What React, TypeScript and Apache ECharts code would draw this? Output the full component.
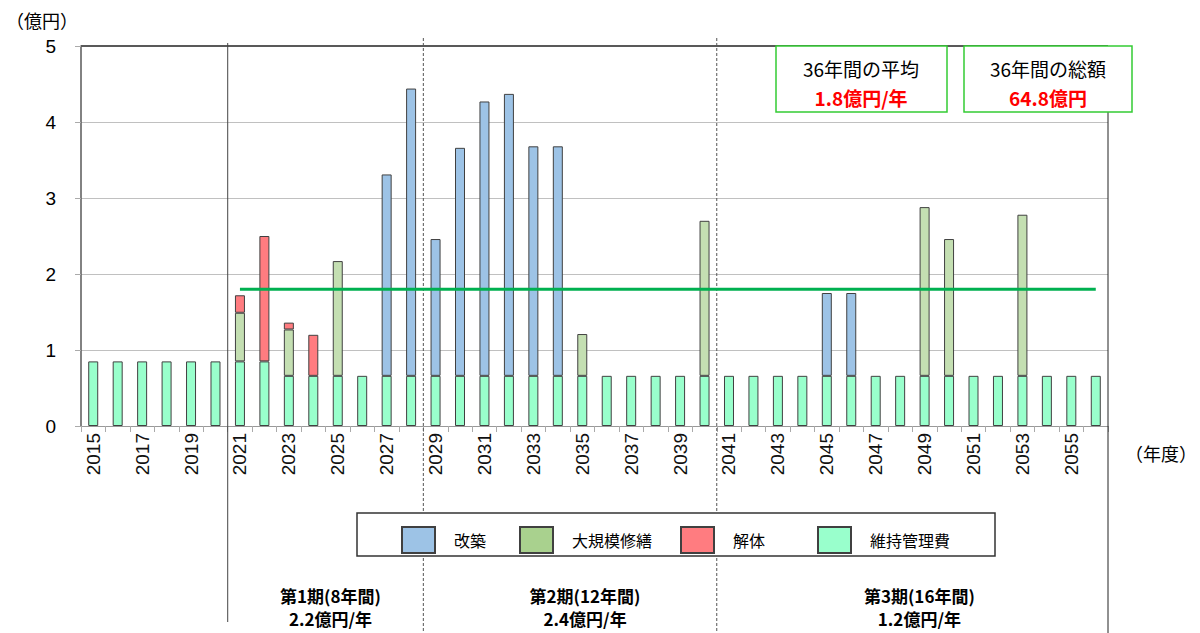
import React, { useEffect, useRef } from "react";
import * as echarts from "echarts";

const years = [
  "2015", "2016", "2017", "2018", "2019", "2020", "2021", "2022", "2023", "2024",
  "2025", "2026", "2027", "2028", "2029", "2030", "2031", "2032", "2033", "2034",
  "2035", "2036", "2037", "2038", "2039", "2040", "2041", "2042", "2043", "2044",
  "2045", "2046", "2047", "2048", "2049", "2050", "2051", "2052", "2053", "2054",
  "2055", "2056",
];

// 維持管理費
const maintenance = [
  0.85, 0.85, 0.85, 0.85, 0.85, 0.85, 0.85, 0.85, 0.66, 0.66,
  0.66, 0.66, 0.66, 0.66, 0.66, 0.66, 0.66, 0.66, 0.66, 0.66,
  0.66, 0.66, 0.66, 0.66, 0.66, 0.66, 0.66, 0.66, 0.66, 0.66,
  0.66, 0.66, 0.66, 0.66, 0.66, 0.66, 0.66, 0.66, 0.66, 0.66,
  0.66, 0.66,
];

// 改築
const rebuild = [
  null, null, null, null, null, null, null, null, null, null,
  null, null, 2.65, 3.78, 1.8, 3.0, 3.61, 3.71, 3.02, 3.02,
  null, null, null, null, null, null, null, null, null, null,
  1.09, 1.09, null, null, null, null, null, null, null, null,
  null, null,
];

// 大規模修繕
const majorRepair = [
  null, null, null, null, null, null, 0.64, null, 0.61, null,
  1.51, null, null, null, null, null, null, null, null, null,
  0.55, null, null, null, null, 2.04, null, null, null, null,
  null, null, null, null, 2.22, 1.8, null, null, 2.12, null,
  null, null,
];

// 解体
const demolition = [
  null, null, null, null, null, null, 0.23, 1.65, 0.09, 0.54,
  null, null, null, null, null, null, null, null, null, null,
  null, null, null, null, null, null, null, null, null, null,
  null, null, null, null, null, null, null, null, null, null,
  null, null,
];

// 36年間の平均 (2021-2056)
const average = [
  null, null, null, null, null, null, 1.8, 1.8, 1.8, 1.8,
  1.8, 1.8, 1.8, 1.8, 1.8, 1.8, 1.8, 1.8, 1.8, 1.8,
  1.8, 1.8, 1.8, 1.8, 1.8, 1.8, 1.8, 1.8, 1.8, 1.8,
  1.8, 1.8, 1.8, 1.8, 1.8, 1.8, 1.8, 1.8, 1.8, 1.8,
  1.8, 1.8,
];

const periodLabels = [
  { title: "第1期(8年間)", value: "2.2億円/年" },
  { title: "第2期(12年間)", value: "2.4億円/年" },
  { title: "第3期(16年間)", value: "1.2億円/年" },
];

const LATIN = '"Liberation Sans", Arial, "Noto Sans CJK JP", sans-serif';
const CJK = '"Noto Sans CJK JP", "Liberation Sans", sans-serif';

const COLORS = {
  rebuild: "#9dc3e6",
  repair: "#c4dfb2",
  repairLegend: "#a9d18e",
  demolition: "#ff7c80",
  maintenance: "#99ffcc",
};

export default function App() {
  const ref = useRef<HTMLDivElement>(null);

  useEffect(() => {
    const chart = echarts.init(ref.current!, null, { renderer: "svg" });
    const barBase = {
      type: "bar",
      stack: "total",
      barWidth: 10,
      itemStyle: { borderColor: "#404040", borderWidth: 1 },
    };
    const legendBase = {
      top: 521,
      itemWidth: 33,
      itemHeight: 26,
      icon: "rect",
      selectedMode: false,
      textStyle: { fontSize: 16, color: "#000", fontFamily: CJK, padding: [0, 0, 0, 14] },
      z: 10,
    };
    chart.setOption({
      animation: false,
      grid: { left: 81, right: 92, top: 46, bottom: 207 },
      legend: [
        { ...legendBase, left: 396, data: [{ name: "改築", itemStyle: { color: COLORS.rebuild } }] },
        { ...legendBase, left: 514, data: [{ name: "大規模修繕", itemStyle: { color: COLORS.repairLegend } }] },
        { ...legendBase, left: 675, data: [{ name: "解体", itemStyle: { color: COLORS.demolition } }] },
        { ...legendBase, left: 812, data: [{ name: "維持管理費", itemStyle: { color: COLORS.maintenance } }] },
      ],
      xAxis: {
        type: "category",
        data: years,
        axisLine: { lineStyle: { color: "#999", width: 1 } },
        axisTick: { show: true, interval: 0, length: 6, lineStyle: { color: "#aaa" } },
        axisLabel: {
          interval: 1,
          rotate: 90,
          fontSize: 19,
          color: "#111",
          margin: 7,
          fontFamily: LATIN,
        },
      },
      yAxis: {
        type: "value",
        min: 0,
        max: 5,
        interval: 1,
        axisLine: { show: true, lineStyle: { color: "#595959", width: 1.5 } },
        axisTick: { show: true, length: 6, lineStyle: { color: "#aaa" } },
        splitLine: { lineStyle: { color: "#c0c0c0", width: 1 } },
        axisLabel: { fontSize: 19, color: "#000", margin: 25, fontFamily: LATIN },
      },
      series: [
        { ...barBase, name: "維持管理費", data: maintenance, itemStyle: { ...barBase.itemStyle, color: COLORS.maintenance } },
        { ...barBase, name: "改築", data: rebuild, itemStyle: { ...barBase.itemStyle, color: COLORS.rebuild } },
        { ...barBase, name: "大規模修繕", data: majorRepair, itemStyle: { ...barBase.itemStyle, color: COLORS.repair } },
        { ...barBase, name: "解体", data: demolition, itemStyle: { ...barBase.itemStyle, color: COLORS.demolition } },
        {
          type: "line",
          name: "平均",
          data: average,
          symbol: "none",
          lineStyle: { color: "#00b050", width: 3 },
          z: 5,
        },
      ],
    });

    const px = (i: number) => chart.convertToPixel({ gridIndex: 0 }, [i, 0]) as number[];
    const top = (chart.convertToPixel({ gridIndex: 0 }, [0, 5]) as number[])[1];
    const step = px(1)[0] - px(0)[0];
    const left = px(0)[0] - step / 2;
    const right = px(years.length - 1)[0] + step / 2;
    const boundary = (i: number) => (px(i - 1)[0] + px(i)[0]) / 2;
    const b1 = boundary(6);
    const b2 = boundary(14);
    const b3 = boundary(26);
    const centers = [(b1 + b2) / 2 + 5, (b2 + b3) / 2 + 15, (b3 + right) / 2 + 7];

    const graphic: any[] = [
      { type: "line", z: 3, shape: { x1: left, y1: top, x2: right, y2: top }, style: { stroke: "#595959", lineWidth: 2 } },
      { type: "line", z: 3, shape: { x1: right, y1: top, x2: right, y2: 633 }, style: { stroke: "#222", lineWidth: 1 } },
      { type: "line", z: 3, shape: { x1: b1, y1: top - 3, x2: b1, y2: 622 }, style: { stroke: "#444", lineWidth: 1 } },
      { type: "line", z: 3, shape: { x1: b2, y1: top - 8, x2: b2, y2: 633 }, style: { stroke: "#555", lineWidth: 1, lineDash: [3, 2] } },
      { type: "line", z: 3, shape: { x1: b3, y1: top - 8, x2: b3, y2: 633 }, style: { stroke: "#555", lineWidth: 1, lineDash: [3, 2] } },
      { type: "rect", z: 4, shape: { x: 357, y: 513, width: 638, height: 43 }, style: { fill: "#fff", stroke: "#333", lineWidth: 1.5 } },
      { type: "rect", z: 6, shape: { x: 776, y: 46, width: 171, height: 66 }, style: { fill: "#fff", stroke: "#33cc33", lineWidth: 1.5 } },
      { type: "rect", z: 6, shape: { x: 964, y: 46, width: 168, height: 66 }, style: { fill: "#fff", stroke: "#33cc33", lineWidth: 1.5 } },
      { type: "text", z: 7, x: 861, y: 68, style: { text: "36年間の平均", fontSize: 19, fill: "#000", fontFamily: CJK, align: "center", verticalAlign: "middle" } },
      { type: "text", z: 7, x: 861, y: 97, style: { text: "1.8億円/年", fontSize: 19, fontWeight: "bold", fill: "#ff0000", fontFamily: CJK, align: "center", verticalAlign: "middle" } },
      { type: "text", z: 7, x: 1048, y: 68, style: { text: "36年間の総額", fontSize: 19, fill: "#000", fontFamily: CJK, align: "center", verticalAlign: "middle" } },
      { type: "text", z: 7, x: 1048, y: 97, style: { text: "64.8億円", fontSize: 19, fontWeight: "bold", fill: "#ff0000", fontFamily: CJK, align: "center", verticalAlign: "middle" } },
      { type: "text", z: 7, x: 6, y: 20, style: { text: "（億円）", fontSize: 18, fill: "#000", fontFamily: CJK, align: "left", verticalAlign: "middle" } },
      { type: "text", z: 7, x: 1125, y: 453, style: { text: "（年度）", fontSize: 18, fill: "#000", fontFamily: CJK, align: "left", verticalAlign: "middle" } },
    ];
    periodLabels.forEach((p, i) => {
      graphic.push({
        type: "text",
        z: 7,
        x: centers[i],
        y: 607,
        style: {
          text: p.title + "\n" + p.value,
          fontSize: 17,
          lineHeight: 23,
          fontWeight: "bold",
          fill: "#000",
          fontFamily: CJK,
          align: "center",
          verticalAlign: "middle",
        },
      });
    });
    chart.setOption({ graphic });

    return () => chart.dispose();
  }, []);

  return <div ref={ref} style={{ position: "fixed", left: 0, top: 0, width: 1200, height: 633, background: "#fff" }} />;
}
